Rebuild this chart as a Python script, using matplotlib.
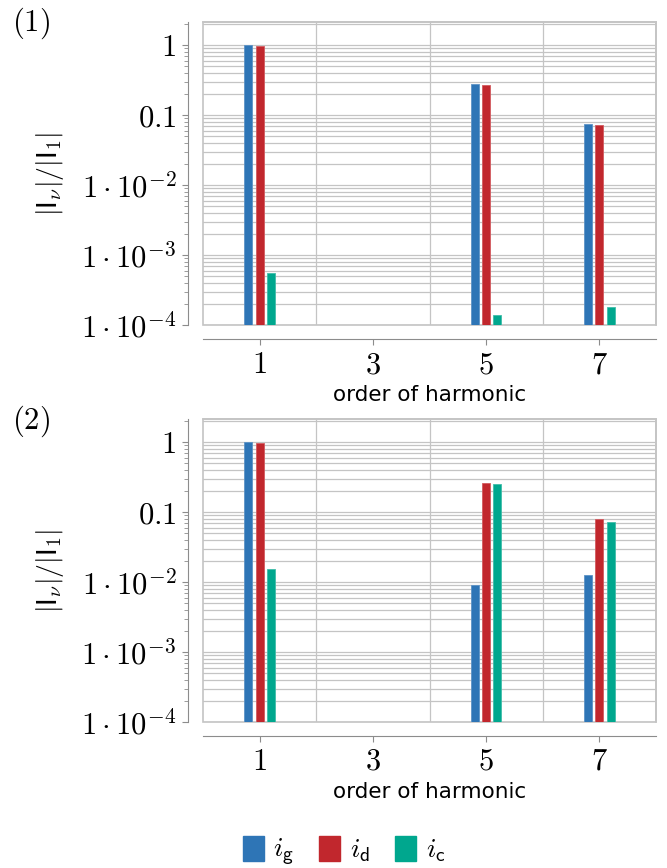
import matplotlib
matplotlib.use("Agg")
import matplotlib.pyplot as plt
import numpy as np
from matplotlib.patches import Patch, Rectangle
from matplotlib.ticker import FixedLocator, FixedFormatter, LogLocator, NullFormatter

plt.rcParams['mathtext.fontset'] = 'cm'
plt.rcParams['font.family'] = ['DejaVu Sans']

# harmonic orders shown on the axis and the ones that carry bars
orders = [1, 3, 5, 7]
bar_orders = [1, 5, 7]

# panel (1)
ig_1 = [1.0, 0.277, 0.0736]
id_1 = [0.98, 0.27, 0.0726]
ic_1 = [5.5e-4, 1.39e-4, 1.83e-4]

# panel (2)
ig_2 = [1.0, 0.00903, 0.01265]
id_2 = [0.97, 0.258, 0.0785]
ic_2 = [0.0154, 0.25, 0.0726]

ytick_vals = [1e-4, 1e-3, 1e-2, 0.1, 1]
ytick_labels = [r'$1\cdot10^{-4}$', r'$1\cdot10^{-3}$', r'$1\cdot10^{-2}$',
                r'$0.1$', r'$1$']

c_g = '#2e75b6'
c_d = '#c1272d'
c_c = '#00a78e'
grid_c = '#c4c4c4'
spine_c = '#8c8c8c'

W, H = 667, 868
fig = plt.figure(figsize=(W / 100, H / 100), dpi=100)


def px_axes(x0, y0, x1, y1):
    return fig.add_axes([x0 / W, 1 - y1 / H, (x1 - x0) / W, (y1 - y0) / H])


def draw_panel(ax, ig, id_, ic):
    x = np.array(bar_orders, dtype=float)
    w = 0.14
    ax.bar(x - 0.2, ig, w, color=c_g, edgecolor='#5d93c6', lw=0.6, zorder=3)
    ax.bar(x, id_, w, color=c_d, edgecolor='#d25a5f', lw=0.6, zorder=3)
    ax.bar(x + 0.2, ic, w, color=c_c, edgecolor='#40bda9', lw=0.6, zorder=3)
    ax.set_yscale('log')
    ax.set_ylim(1e-4, 2.13)
    ax.set_xlim(0, 8)

    ax.yaxis.set_major_locator(FixedLocator(ytick_vals))
    ax.yaxis.set_major_formatter(FixedFormatter(ytick_labels))
    ax.yaxis.set_minor_locator(LogLocator(base=10, subs=np.arange(2, 10)))
    ax.yaxis.set_minor_formatter(NullFormatter())
    ax.set_xticks(orders)
    ax.set_xticklabels([rf'${o}$' for o in orders])
    ax.xaxis.set_minor_locator(FixedLocator([2, 4, 6]))

    ax.grid(True, which='both', axis='y', color=grid_c, lw=0.9, zorder=0)
    ax.grid(True, which='minor', axis='x', color=grid_c, lw=0.9, zorder=0)
    ax.set_axisbelow(True)

    for s in ['top', 'right']:
        ax.spines[s].set_color(grid_c)
        ax.spines[s].set_linewidth(1.2)
    ax.spines['left'].set_position(('outward', 10.8))
    ax.spines['bottom'].set_position(('outward', 10.0))
    ax.spines['left'].set_color(spine_c)
    ax.spines['bottom'].set_color(spine_c)
    ax.add_patch(Rectangle((0, 0), 1, 1, transform=ax.transAxes, fill=False,
                           ec=grid_c, lw=1.2, clip_on=False, zorder=2))

    ax.tick_params(axis='y', which='major', direction='out', length=4.5,
                   color=spine_c, labelsize=22, pad=4)
    ax.tick_params(axis='y', which='minor', direction='out', length=3,
                   color=spine_c)
    ax.tick_params(axis='x', which='major', direction='out', length=4,
                   color=spine_c, labelsize=22, pad=4)
    ax.tick_params(axis='x', which='minor', length=0)

    ax.set_xlabel('order of harmonic', fontsize=15.5, labelpad=4)
    ax.set_ylabel(r'$|\mathsf{I}_\nu|/|\mathsf{I}_1|$', fontsize=20, labelpad=11)


ax1 = px_axes(203, 22, 656, 325)
draw_panel(ax1, ig_1, id_1, ic_1)
ax2 = px_axes(203, 419, 656, 722)
draw_panel(ax2, ig_2, id_2, ic_2)

fig.text(12 / W, 1 - 23 / H, r'$\mathrm{(1)}$', fontsize=22, va='center')
fig.text(12 / W, 1 - 421 / H, r'$\mathrm{(2)}$', fontsize=22, va='center')

handles = [Patch(color=c_g), Patch(color=c_d), Patch(color=c_c)]
labels = [r'$i_\mathsf{g}$', r'$i_\mathsf{d}$', r'$i_\mathsf{c}$']
fig.legend(handles, labels, loc='center', bbox_to_anchor=(344 / W, 1 - 852 / H),
           ncol=3, frameon=False, fontsize=20, handlelength=0.75,
           handleheight=1.0, handletextpad=0.35, columnspacing=0.9)

fig.savefig('out.png', dpi=100)
